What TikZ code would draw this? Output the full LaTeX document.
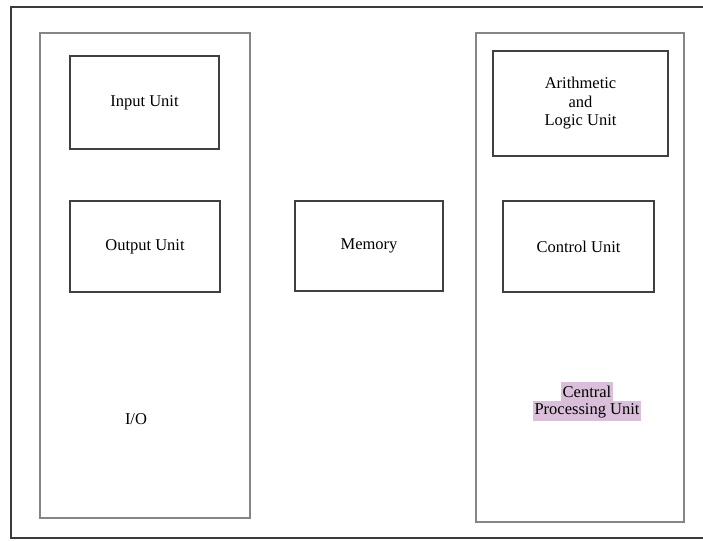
\documentclass[tikz,border=0pt]{standalone}
\usepackage{fontspec}
\setmainfont{Liberation Serif}
\definecolor{framegray}{HTML}{3A3A3A}
\definecolor{panelgray}{HTML}{858585}
\definecolor{boxgray}{HTML}{404040}
\definecolor{marker}{HTML}{D9BFD9}
\begin{document}
\begin{tikzpicture}[x=1pt,y=-1pt,
  panel/.style={draw=panelgray,line width=1.6pt,inner sep=0pt,anchor=center},
  unitbox/.style={draw=boxgray,line width=1.5pt,inner sep=0pt,anchor=center,
    align=center,font=\fontsize{16.5}{18.5}\selectfont},
  caption/.style={inner sep=0pt,font=\fontsize{16.5}{18.5}\selectfont},
  hilite/.style={caption,fill=marker,inner xsep=1.5pt,minimum height=19.5pt}]
  \clip (0,0) rectangle (703,540);
  % outer frame (runs off the right side)
  \draw[framegray,line width=1.6pt] (712,7) -- (11,7) -- (11,538) -- (712,538);
  % I/O panel
  \node[panel,minimum width=210pt,minimum height=485pt] (iopanel) at (145,275.5) {};
  \node[unitbox,minimum width=149pt,minimum height=93pt] (input) at (144.5,102.5) {Input Unit};
  \node[unitbox,minimum width=150pt,minimum height=91pt] (output) at (145,246.5) {Output Unit};
  \node[caption] (io) at (136,419) {I/O};
  % memory
  \node[unitbox,minimum width=148pt,minimum height=90pt] (memory) at (369,246) {Memory};
  % CPU panel
  \node[panel,minimum width=208pt,minimum height=489pt] (cpupanel) at (580,277.5) {};
  \node[unitbox,minimum width=175pt,minimum height=105pt] (alu) at (580.5,103.5) {Arithmetic\\and\\Logic Unit};
  \node[unitbox,minimum width=151pt,minimum height=91pt] (control) at (578.5,246.5) {Control Unit};
  \node[hilite] (cpuA) at (587,391.5) {Central};
  \node[hilite] (cpuB) at (587,411) {Processing Unit};
\end{tikzpicture}
\end{document}
